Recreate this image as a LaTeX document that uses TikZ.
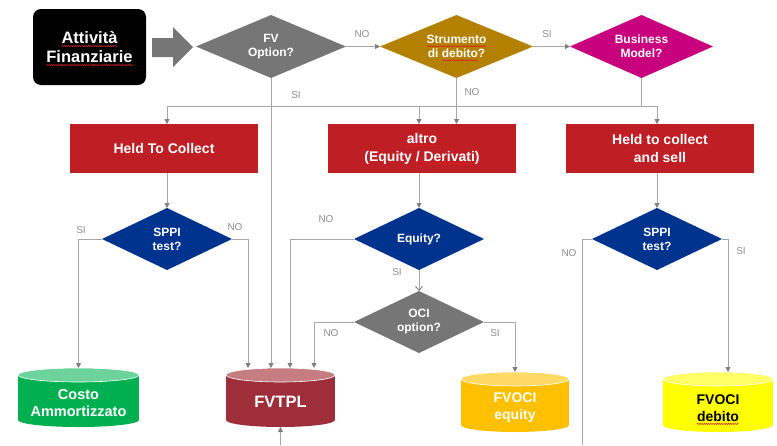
\documentclass[tikz,border=0pt]{standalone}
\usepackage{fontspec}
\setmainfont{Liberation Sans}
\usetikzlibrary{shapes.geometric,arrows.meta,decorations.pathmorphing,calc}
\definecolor{dgray}{HTML}{767676}
\definecolor{gold}{HTML}{B38000}
\definecolor{bmag}{HTML}{C8007E}
\definecolor{bred}{HTML}{BE1E24}
\definecolor{navy}{HTML}{00338D}
\definecolor{lgray}{HTML}{A6A6A6}
\definecolor{tipgray}{HTML}{7F7F7F}
\definecolor{lblgray}{HTML}{8C8C8C}
\definecolor{cgreen}{HTML}{00B050}
\definecolor{cgreentop}{HTML}{6BD39B}
\definecolor{cwine}{HTML}{9E2F3A}
\definecolor{cwinetop}{HTML}{C57D82}
\definecolor{corange}{HTML}{FFC000}
\definecolor{corangetop}{HTML}{FFD966}
\definecolor{cyellow}{HTML}{FFFF00}
\definecolor{cyellowtop}{HTML}{FFFF66}
\definecolor{sqred}{HTML}{E02020}
\newcommand{\sperr}[1]{\tikz[baseline=(sw.base),sharp corners]{\node[shape=rectangle,draw=none,fill=none,inner sep=0pt,outer sep=0pt,minimum width=0pt,minimum height=0pt,anchor=base,sharp corners](sw){#1};\draw[overlay,sharp corners,sqred,line width=0.5pt,decorate,decoration={snake,amplitude=0.6pt,segment length=2.2pt}]([yshift=-2.6pt]sw.base west)--([yshift=-2.6pt]sw.base east);}}
\newcommand{\drawcyl}[7]{%
  \fill[#6] (#2-#4/2,#3+7) rectangle (#2+#4/2,#3+#5-7);
  \fill[#6] (#2,#3+#5-7) ellipse [x radius=#4pt/2, y radius=7pt];
  \filldraw[fill=#7, draw=white, line width=0.6pt] (#2,#3+7) ellipse [x radius=#4pt/2, y radius=7pt];
  \node[cylarea, minimum width=#4pt, minimum height=#5pt] (#1) at (#2,#3+#5/2) {};
}
\begin{document}
\begin{tikzpicture}[x=1pt,y=-1pt,
  startbox/.style={rectangle, rounded corners=8pt, fill=black, text=white, font=\bfseries\fontsize{16.5}{19}\selectfont, align=center, minimum width=113pt, minimum height=76pt, inner sep=0pt, outer sep=0pt},
  dia/.style={diamond, aspect=2.4, inner sep=0pt, outer sep=0pt, text=white, font=\bfseries\fontsize{12}{14}\selectfont, align=center},
  box/.style={rectangle, fill=bred, text=white, font=\bfseries\fontsize{14}{18}\selectfont, align=center, minimum width=188pt, minimum height=49pt, inner sep=0pt, outer sep=0pt},
  cylarea/.style={rectangle, inner sep=0pt, outer sep=0pt},
  cyltxt/.style={text=white, font=\bfseries\fontsize{14}{17}\selectfont, align=center, inner sep=0pt},
  lbl/.style={text=lblgray, font=\fontsize{10}{12}\selectfont, inner sep=0pt},
  conn/.style={draw=lgray, line width=0.9pt},
  arr/.style={conn, -{Triangle[length=5pt,width=5pt,color=tipgray]}},
  openarr/.style={conn, -{Straight Barb[length=4pt,width=7pt,color=tipgray]}}
]
\useasboundingbox (0,0) rectangle (777,445);

% start box and big arrow
\node[startbox] (start) at (89.5,47) {\sperr{Attività}\\\sperr{Finanziarie}};
\fill[dgray] (152,38) -- (173,38) -- (173,27) -- (193,47) -- (173,67) -- (173,57) -- (152,57) -- cycle;

% top diamonds
\node[dia, fill=dgray, minimum width=150pt, minimum height=63pt] (fv) at (271,46.5) {FV\\Option?};
\node[dia, fill=gold, minimum width=153pt, minimum height=63pt] (strum) at (456.5,46.5) {\sperr{Strumento}\\di \sperr{debito}?};
\node[dia, fill=bmag, minimum width=143pt, minimum height=63pt] (busi) at (641.5,46.5) {Business\\Model?};

% red boxes
\node[box] (htc) at (164,148.5) {Held To Collect};
\node[box] (altro) at (422,148.5) {\sperr{altro}\\(Equity / \sperr{Derivati})};
\node[box] (htcs) at (660,148.5) {Held to collect\\and sell};

% lower diamonds
\node[dia, fill=navy, minimum width=130pt, minimum height=62pt] (sppia) at (167,239) {SPPI\\test?};
\node[dia, fill=navy, minimum width=130pt, minimum height=62pt] (equity) at (419,239) {Equity?};
\node[dia, fill=dgray, minimum width=130pt, minimum height=62pt] (oci) at (419,322) {OCI\\option?};
\node[dia, fill=navy, minimum width=130pt, minimum height=62pt] (sppib) at (657,239) {SPPI\\test?};

% cylinders
\drawcyl{costo}{78.5}{368}{121}{59}{cgreen}{cgreentop}
\drawcyl{fvtpl}{280.5}{368}{109}{59}{cwine}{cwinetop}
\drawcyl{fveq}{515}{372}{108}{60}{corange}{corangetop}
\drawcyl{fvdeb}{718}{372}{110}{60}{cyellow}{cyellowtop}
\node[cyltxt, font=\bfseries\fontsize{14.5}{17}\selectfont] (costotxt) at ([yshift=-6pt]costo.center) {Costo\\Ammortizzato};
\node[cyltxt, font=\bfseries\fontsize{16.5}{19}\selectfont] (fvtpltxt) at ([yshift=-4.5pt]fvtpl.center) {FVTPL};
\node[cyltxt] (fveqtxt) at ([yshift=-6pt]fveq.center) {FVOCI\\equity};
\node[cyltxt, text=black] (fvdebtxt) at ([yshift=-6pt]fvdeb.center) {FVOCI\\\sperr{debito}};

% connectors
\coordinate (jl) at (167,106);
\coordinate (ja) at (419,106);
\coordinate (jr) at (657,106);
\coordinate (sppiout) at (582,445);
\coordinate (fin) at (280.5,445);

\draw[arr] (fv.east) -- (strum.west);
\draw[arr] (strum.east) -- (busi.west);
\draw[conn] (jl) -- (jr);
\draw[conn] (busi.south) -- (busi.south |- jr);
\draw[arr] (jl) -- (jl |- htc.north);
\draw[arr] (ja) -- (ja |- altro.north);
\draw[arr] (jr) -- (jr |- htcs.north);
\draw[arr] (strum.south) -- (strum.south |- altro.north);
\draw[arr] (fv.south) -- (fv.south |- fvtpl.north);
\draw[arr] (sppia.north |- htc.south) -- (sppia.north);
\draw[arr] (equity.north |- altro.south) -- (equity.north);
\draw[arr] (sppib.north |- htcs.south) -- (sppib.north);
\draw[arr] (sppia.west) -| (costo.north);
\draw[arr] (sppia.east) -| ([xshift=-32.5pt]fvtpl.north);
\draw[arr] (equity.west) -| ([xshift=9.5pt]fvtpl.north);
\draw[openarr] (equity.south) -- (oci.north);
\draw[arr] (oci.west) -| ([xshift=33.5pt]fvtpl.north);
\draw[arr] (oci.east) -| (fveq.north);
\draw[conn] (sppib.west) -| (sppiout);
\draw[arr] (sppib.east) -| ([xshift=10pt]fvdeb.north);
\draw[arr] (fin) -- (fvtpl.south);

% labels
\node[lbl] (l1) at (362,34) {NO};
\node[lbl] (l2) at (547,34) {SI};
\node[lbl] (l3) at (296,95) {SI};
\node[lbl] (l4) at (472,92) {NO};
\node[lbl] (l5) at (81,230) {SI};
\node[lbl] (l6) at (235,227) {NO};
\node[lbl] (l7) at (326,219) {NO};
\node[lbl] (l8) at (397,272) {SI};
\node[lbl] (l9) at (331,333) {NO};
\node[lbl] (l10) at (495,333) {SI};
\node[lbl] (l11) at (569,253) {NO};
\node[lbl] (l12) at (741,251) {SI};
\end{tikzpicture}
\end{document}
